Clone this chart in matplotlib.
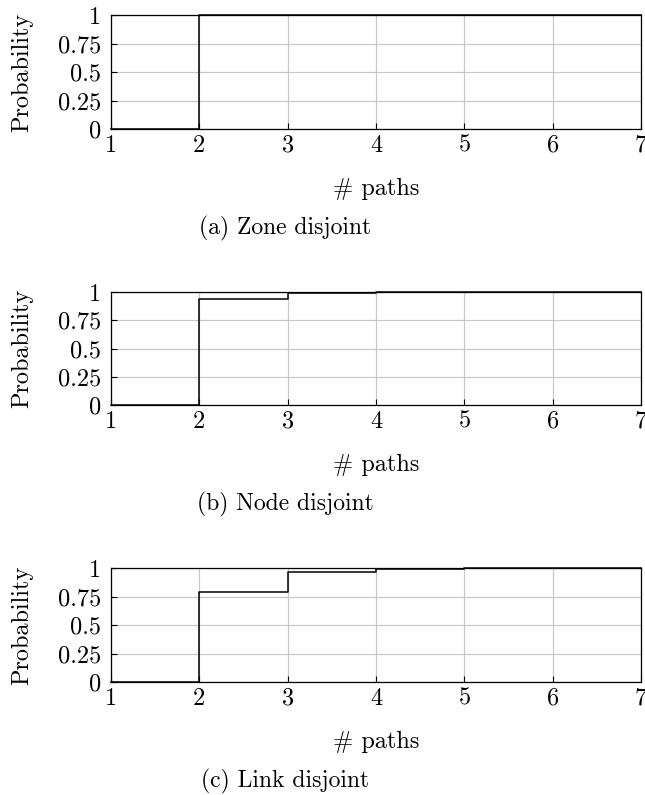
import matplotlib
matplotlib.use("Agg")
import matplotlib.pyplot as plt

plt.rcParams['font.family'] = 'serif'
plt.rcParams['font.serif'] = ['cmr10', 'DejaVu Serif']
plt.rcParams['mathtext.fontset'] = 'cm'
plt.rcParams['axes.formatter.use_mathtext'] = True

paths = [1, 2, 3, 4, 5, 6, 7]
zone_prob = [0, 1.0, 1.0, 1.0, 1.0, 1.0, 1.0]
node_prob = [0, 0.935, 0.995, 1.0, 1.0, 1.0, 1.0]
link_prob = [0, 0.788, 0.965, 0.991, 1.0, 1.0, 1.0]
yticks = [0, 0.25, 0.5, 0.75, 1]
ytick_labels = ['0', '0.25', '0.5', '0.75', '1']
captions = ['(a) Zone disjoint', '(b) Node disjoint', '(c) Link disjoint']
series = [zone_prob, node_prob, link_prob]

W, H = 645, 795
fig = plt.figure(figsize=(W / 100, H / 100), dpi=100)

tops = [15, 292, 568]
bottoms = [129, 405, 682]
left, right = 111, 641
fs = 17.5

for top, bot, ys, cap in zip(tops, bottoms, series, captions):
    ax = fig.add_axes([left / W, 1 - bot / H, (right - left) / W, (bot - top) / H])
    ax.step(paths, ys, where='post', color='black', lw=1.1, clip_on=False, zorder=3)
    ax.set_xlim(1, 7)
    ax.set_ylim(0, 1)
    ax.set_xticks(paths)
    ax.set_xticklabels([str(p) for p in paths])
    ax.set_yticks(yticks)
    ax.set_yticklabels(ytick_labels)
    ax.grid(True, color='#c8c8c8', lw=0.9)
    ax.set_axisbelow(True)
    ax.tick_params(direction='in', length=4, width=0.8, labelsize=fs)
    ax.tick_params(axis='y', pad=7)
    ax.tick_params(axis='x', pad=4)
    for s in ax.spines.values():
        s.set_linewidth(0.9)
    ax.set_ylabel('Probability', fontsize=fs, labelpad=18)
    ax.set_xlabel('# paths', fontsize=fs, labelpad=15)
    ax.text(285 / W, (H - (bot + 99)) / H, cap, transform=fig.transFigure,
            ha='center', va='center', fontsize=fs - 0.5)

fig.savefig('out.png', dpi=100)
